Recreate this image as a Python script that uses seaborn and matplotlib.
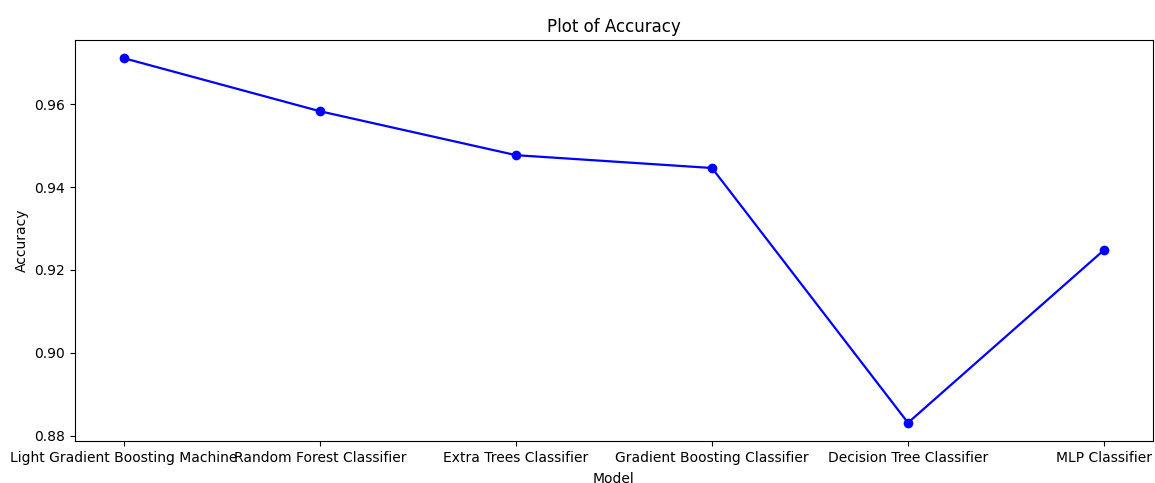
import matplotlib
matplotlib.use("Agg")
import matplotlib.pyplot as plt
import seaborn as sns
import pandas as pd

models = [
    "Light Gradient Boosting Machine",
    "Random Forest Classifier",
    "Extra Trees Classifier",
    "Gradient Boosting Classifier",
    "Decision Tree Classifier",
    "MLP Classifier",
]
accuracy = [0.9711, 0.9583, 0.9477, 0.9446, 0.8831, 0.9248]

df = pd.DataFrame({"Model": models, "Accuracy": accuracy})

fig = plt.figure(figsize=(11.55, 4.83), dpi=100)
ax = fig.add_axes([75 / 1155, 42 / 483, 1078 / 1155, 401 / 483])

sns.lineplot(data=df, x="Model", y="Accuracy", marker="o", color="blue",
             linewidth=1.6, markersize=7, markeredgewidth=0, sort=False, ax=ax)

ax.set_title("Plot of Accuracy")
ax.set_xlabel("Model", labelpad=5.5)
ax.set_ylabel("Accuracy")

fig.savefig("out.png", dpi=100)
